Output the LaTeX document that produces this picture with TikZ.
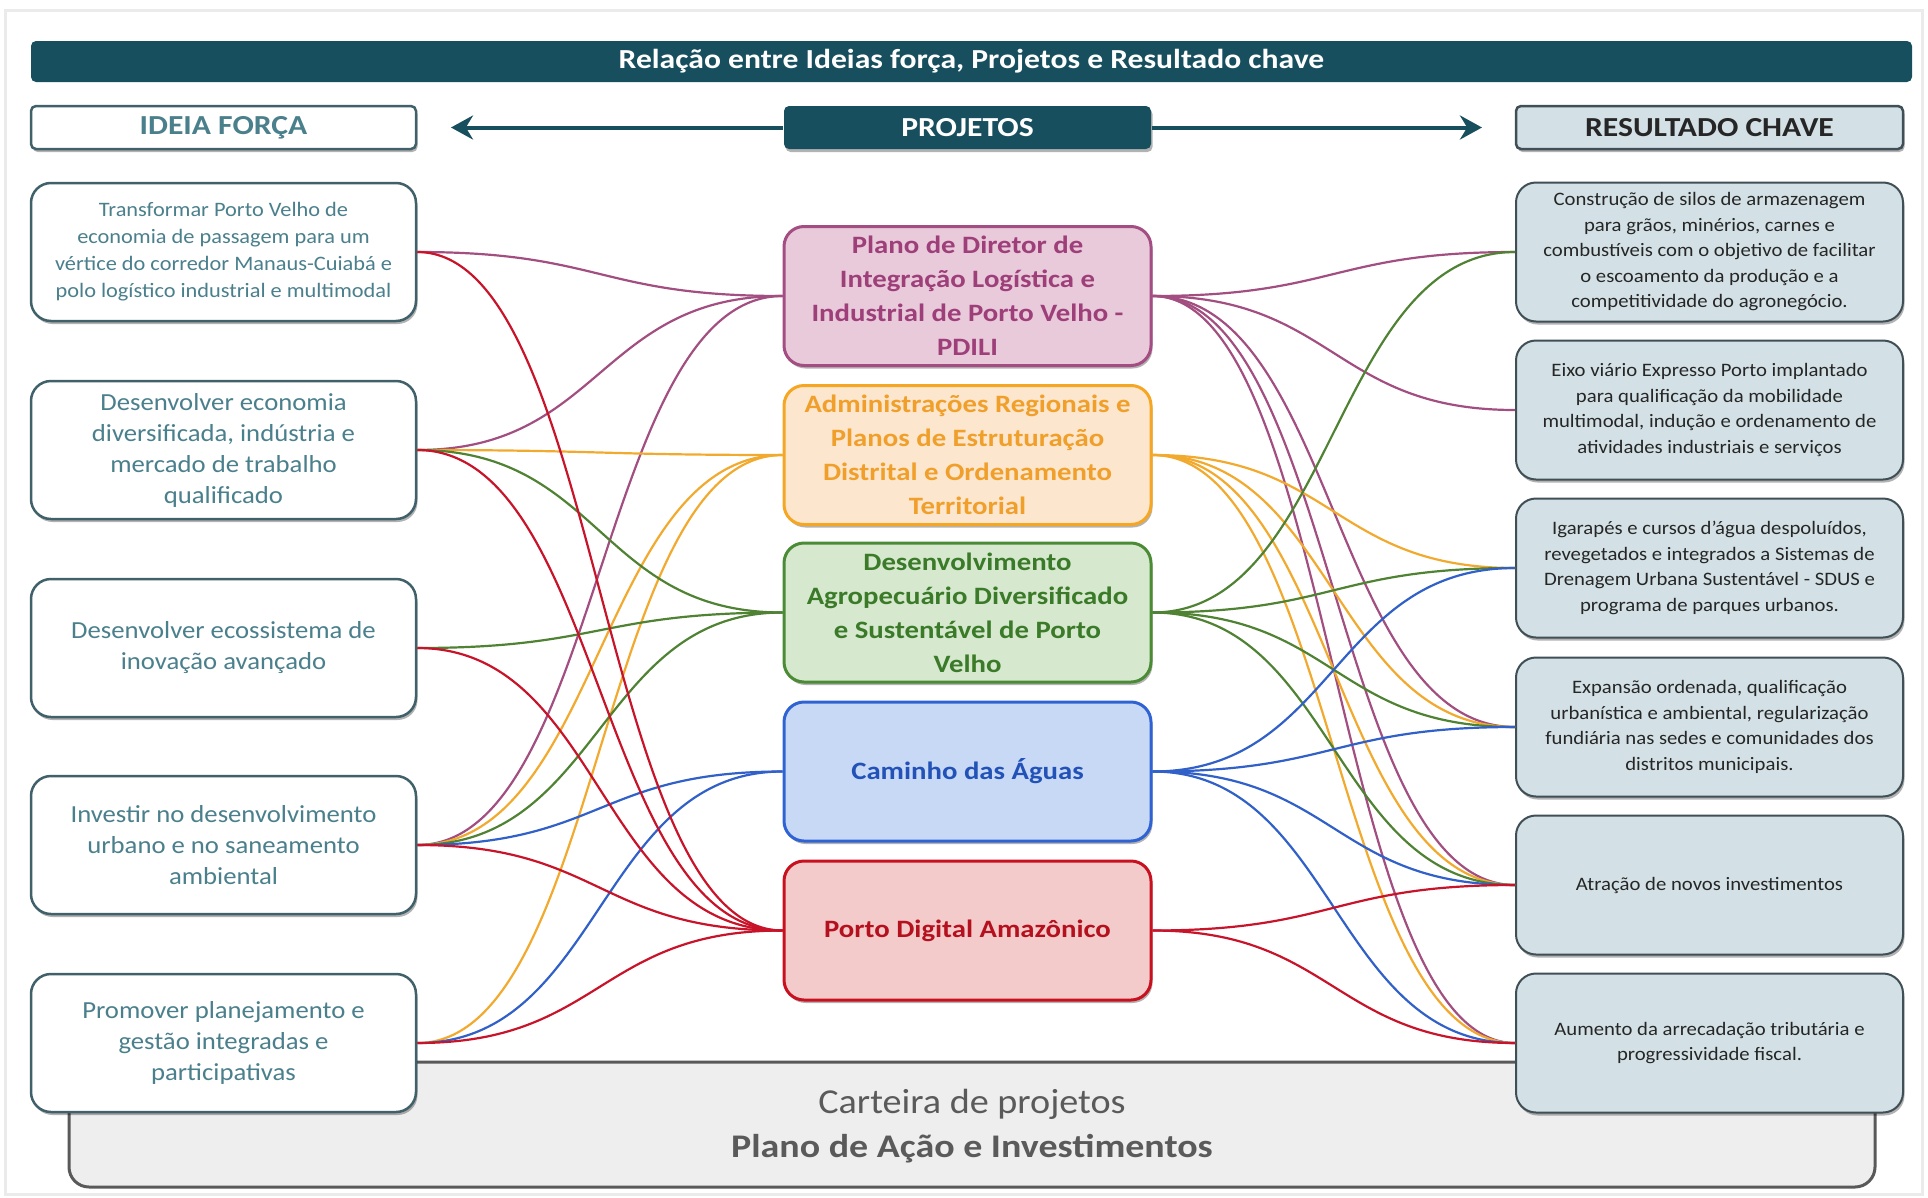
\documentclass[tikz,border=0pt]{standalone}
\usepackage{fontspec}
\setmainfont{Carlito}[FakeStretch=1.09,BoldFeatures={FakeStretch=1.15}]
\usetikzlibrary{arrows.meta,shadows}
\definecolor{hdr}{HTML}{174F5E}
\definecolor{ideaborder}{HTML}{40606A}
\definecolor{ideatext}{HTML}{4A7F8C}
\definecolor{resfill}{HTML}{D3E1E6}
\definecolor{resborder}{HTML}{3F4F55}
\definecolor{pAfill}{HTML}{E8CADB}
\definecolor{pAline}{HTML}{A34D82}
\definecolor{pAtext}{HTML}{9E3F7A}
\definecolor{pBfill}{HTML}{FDE6CE}
\definecolor{pBline}{HTML}{F5A623}
\definecolor{pBtext}{HTML}{F0A02A}
\definecolor{pCfill}{HTML}{D6E9CF}
\definecolor{pCline}{HTML}{4B8B36}
\definecolor{pCtext}{HTML}{3A7A28}
\definecolor{pDfill}{HTML}{C8D9F6}
\definecolor{pDline}{HTML}{2F63D3}
\definecolor{pDtext}{HTML}{2252B8}
\definecolor{pEfill}{HTML}{F3CBCB}
\definecolor{pEline}{HTML}{C8101E}
\definecolor{pEtext}{HTML}{B5101E}
\definecolor{lnpurple}{HTML}{A24E80}
\definecolor{lnorange}{HTML}{F2AA2E}
\definecolor{lngreen}{HTML}{4F8233}
\definecolor{lnblue}{HTML}{3060C8}
\definecolor{lnred}{HTML}{C8142A}
\definecolor{panelfill}{HTML}{EEEEEE}
\definecolor{paneltext}{HTML}{5A5A5A}
\newcommand\lnkL[3]{\draw[conn,#1] (#2.east) .. controls +(184,0) and +(-184,0) .. (#3.west);}
\newcommand\lnkR[3]{\draw[conn,#1] (#2.east) .. controls +(182,0) and +(-182,0) .. (#3.west);}
\begin{document}
\begin{tikzpicture}[x=1pt,y=-1pt,
  shade/.style={drop shadow={shadow xshift=1.5pt,shadow yshift=-3pt,opacity=.3,fill=black}},
  idea/.style={draw=ideaborder,line width=2.5pt,rounded corners=20pt,fill=white,
    minimum width=385pt,minimum height=138pt,align=center,text=ideatext,inner sep=0pt,shade,
    font=\fontsize{24.5}{31}\selectfont},
  proj/.style={line width=3pt,rounded corners=20pt,minimum width=367pt,minimum height=139pt,
    align=center,inner sep=0pt,shade,font=\bfseries\fontsize{25}{34}\selectfont},
  res/.style={draw=resborder,line width=2pt,rounded corners=20pt,fill=resfill,
    minimum width=387pt,minimum height=139pt,align=center,text=black!85,inner sep=0pt,shade,
    font=\fontsize{19}{25.5}\selectfont},
  hdrbox/.style={minimum height=43pt,inner sep=0pt,font=\bfseries\fontsize{27.5}{30}\selectfont,rounded corners=5pt,line width=2.5pt},
  conn/.style={line width=2.2pt},
  hdrarrow/.style={draw=hdr,line width=4pt,-{Stealth[length=22pt,width=24pt]}}
]
\useasboundingbox (0,0) rectangle (1928,1197);
\draw[black!8,line width=3pt] (5,10) rectangle (1922,1194);

% bottom panel
\node[draw=black!65,fill=panelfill,line width=3pt,rounded corners=20pt,
  minimum width=1806pt,minimum height=125pt,inner sep=0pt] (panel) at (972,1124.5) {};
\node[text=paneltext,font=\fontsize{35}{40}\selectfont] (carteira) at (972,1104) {Carteira de projetos};
\node[text=paneltext,font=\bfseries\fontsize{33}{40}\selectfont] (plano) at (972,1149) {Plano de Ação e Investimentos};

% title bar
\node[hdrbox,fill=hdr,text=white,minimum width=1881pt,minimum height=41pt] (title) at (971.5,61.5)
  {Relação entre Ideias força, Projetos e Resultado chave};

% column headers
\node[hdrbox,draw=ideaborder,fill=white,text=ideatext,minimum width=385pt,shade] (hidea) at (223.5,127.5) {IDEIA FORÇA};
\node[hdrbox,fill=hdr,text=white,minimum width=367pt,shade] (hproj) at (967.5,127.5) {PROJETOS};
\node[hdrbox,draw=resborder,fill=resfill,text=black!85,minimum width=387pt,shade] (hres) at (1709.5,127.5) {RESULTADO CHAVE};
\coordinate (arrL) at (451,127.5);
\coordinate (arrR) at (1482,127.5);
\draw[hdrarrow] (hproj.west) -- (arrL);
\draw[hdrarrow] (hproj.east) -- (arrR);

% ideas
\node[idea,font=\fontsize{20.5}{27}\selectfont] (i1) at (223.5,252) {Transformar Porto Velho de\\economia de passagem para um\\vértice do corredor Manaus-Cuiabá e\\polo logístico industrial e multimodal};
\node[idea] (i2) at (223.5,450) {Desenvolver economia\\diversificada, indústria e\\mercado de trabalho\\qualificado};
\node[idea] (i3) at (223.5,648) {Desenvolver ecossistema de\\inovação avançado};
\node[idea] (i4) at (223.5,845) {Investir no desenvolvimento\\urbano e no saneamento\\ambiental};
\node[idea] (i5) at (223.5,1043) {Promover planejamento e\\gestão integradas e\\participativas};

% projects
\node[proj,draw=pAline,fill=pAfill,text=pAtext] (p1) at (967.5,296) {Plano de Diretor de\\Integração Logística e\\Industrial de Porto Velho -\\PDILI};
\node[proj,draw=pBline,fill=pBfill,text=pBtext] (p2) at (967.5,455) {Administrações Regionais e\\Planos de Estruturação\\Distrital e Ordenamento\\Territorial};
\node[proj,draw=pCline,fill=pCfill,text=pCtext] (p3) at (967.5,612.5) {Desenvolvimento\\Agropecuário Diversificado\\e Sustentável de Porto\\Velho};
\node[proj,draw=pDline,fill=pDfill,text=pDtext] (p4) at (967.5,771.5) {Caminho das Águas};
\node[proj,draw=pEline,fill=pEfill,text=pEtext] (p5) at (967.5,930.5) {Porto Digital Amazônico};

% results
\node[res] (r1) at (1709.5,252) {Construção de silos de armazenagem\\para grãos, minérios, carnes e\\combustíveis com o objetivo de facilitar\\o escoamento da produção e a\\competitividade do agronegócio.};
\node[res] (r2) at (1709.5,410) {Eixo viário Expresso Porto implantado\\para qualificação da mobilidade\\multimodal, indução e ordenamento de\\atividades industriais e serviços};
\node[res] (r3) at (1709.5,568) {Igarapés e cursos d’água despoluídos,\\revegetados e integrados a Sistemas de\\Drenagem Urbana Sustentável - SDUS e\\programa de parques urbanos.};
\node[res] (r4) at (1709.5,727) {Expansão ordenada, qualificação\\urbanística e ambiental, regularização\\fundiária nas sedes e comunidades dos\\distritos municipais.};
\node[res] (r5) at (1709.5,885) {Atração de novos investimentos};
\node[res] (r6) at (1709.5,1043) {Aumento da arrecadação tributária e\\progressividade fiscal.};

% left connectors (ideas -> projects)
\lnkL{lnpurple}{i1}{p1}
\lnkL{lnpurple}{i2}{p1}
\lnkL{lnpurple}{i4}{p1}
\lnkL{lnorange}{i2}{p2}
\lnkL{lnorange}{i4}{p2}
\lnkL{lnorange}{i5}{p2}
\lnkL{lngreen}{i2}{p3}
\lnkL{lngreen}{i3}{p3}
\lnkL{lngreen}{i4}{p3}
\lnkL{lnblue}{i4}{p4}
\lnkL{lnblue}{i5}{p4}
\lnkL{lnred}{i1}{p5}
\lnkL{lnred}{i2}{p5}
\lnkL{lnred}{i3}{p5}
\lnkL{lnred}{i4}{p5}
\lnkL{lnred}{i5}{p5}

% right connectors (projects -> results)
\lnkR{lnpurple}{p1}{r1}
\lnkR{lnpurple}{p1}{r2}
\lnkR{lnpurple}{p1}{r4}
\lnkR{lnpurple}{p1}{r5}
\lnkR{lnpurple}{p1}{r6}
\lnkR{lnorange}{p2}{r3}
\lnkR{lnorange}{p2}{r4}
\lnkR{lnorange}{p2}{r5}
\lnkR{lnorange}{p2}{r6}
\lnkR{lngreen}{p3}{r1}
\lnkR{lngreen}{p3}{r3}
\lnkR{lngreen}{p3}{r4}
\lnkR{lngreen}{p3}{r5}
\lnkR{lnblue}{p4}{r3}
\lnkR{lnblue}{p4}{r4}
\lnkR{lnblue}{p4}{r5}
\lnkR{lnblue}{p4}{r6}
\lnkR{lnred}{p5}{r5}
\lnkR{lnred}{p5}{r6}
\end{tikzpicture}
\end{document}
